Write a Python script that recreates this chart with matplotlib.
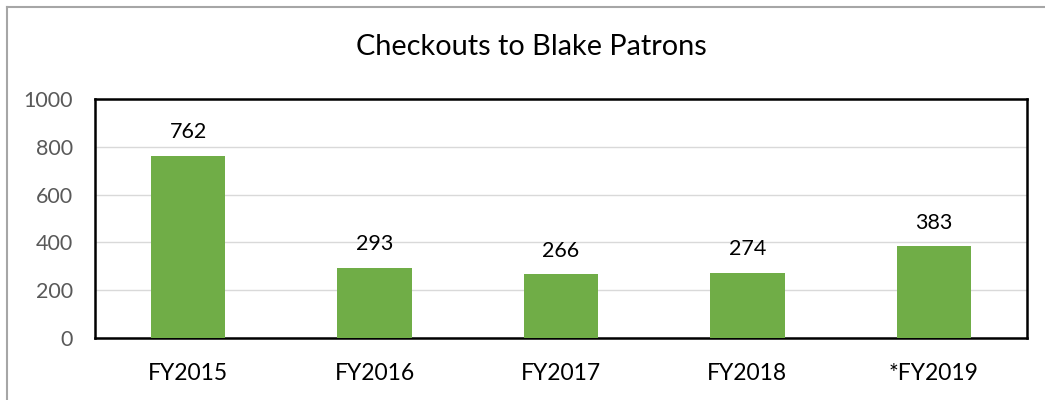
import matplotlib.pyplot as plt
from matplotlib.lines import Line2D

years = ['FY2015', 'FY2016', 'FY2017', 'FY2018', '*FY2019']
checkouts = [762, 293, 266, 274, 383]

plt.rcParams['font.family'] = ['Lato', 'DejaVu Sans']

fig = plt.figure(figsize=(10.45, 4.0), dpi=100)
ax = fig.add_axes([0.0909, 0.155, 0.8919, 0.5975])

x = range(len(years))
bars = ax.bar(x, checkouts, width=0.40, color='#70AD47', zorder=3)

for b, v in zip(bars, checkouts):
    ax.annotate(str(v), (b.get_x() + b.get_width() / 2, v),
                xytext=(0, 10), textcoords='offset points',
                ha='center', va='bottom', fontsize=15.5, color='black')

ax.set_xlim(-0.5, len(years) - 0.5)
ax.set_ylim(0, 1000)
ax.set_yticks(range(0, 1001, 200))
ax.set_xticks(list(x))
ax.set_xticklabels(years, fontsize=16.5, color='black')
ax.tick_params(axis='y', labelsize=15.5, labelcolor='#595959', length=0, pad=16)
ax.tick_params(axis='x', length=0, pad=18)
ax.grid(axis='y', color='#D9D9D9', lw=1, zorder=0)

for s in ax.spines.values():
    s.set_color('black')
    s.set_linewidth(1.8)

fig.suptitle('Checkouts to Blake Patrons', x=0.5086, y=0.915, fontsize=20.8, color='black')

# outer chart border (only top and left visible)
fig.add_artist(Line2D([7 / 1045, 1], [1 - 7 / 400, 1 - 7 / 400], color='#A6A6A6', lw=1.5,
                      transform=fig.transFigure))
fig.add_artist(Line2D([7 / 1045, 7 / 1045], [0, 1 - 7 / 400], color='#A6A6A6', lw=1.5,
                      transform=fig.transFigure))

fig.savefig('out.png', dpi=100)
